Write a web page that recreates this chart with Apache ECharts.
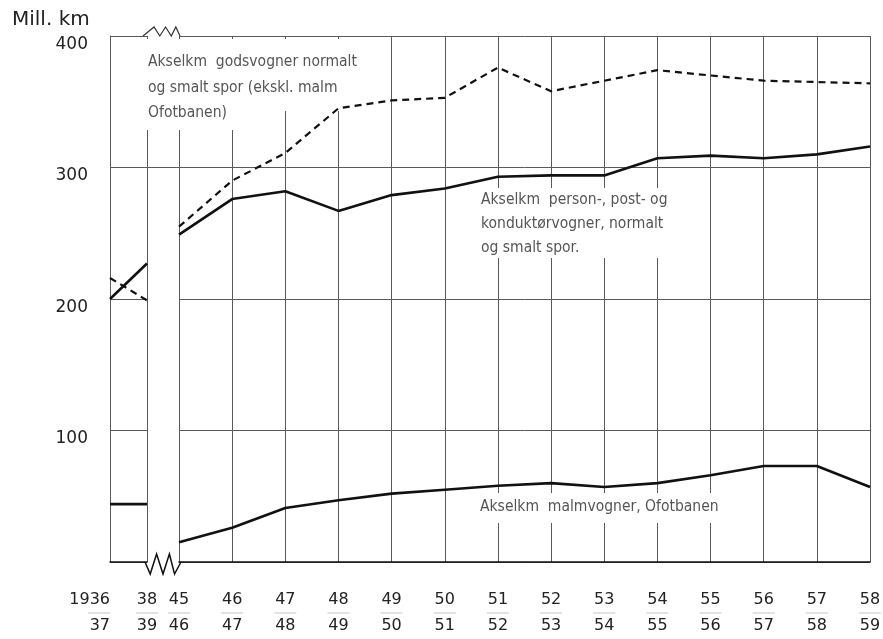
<!DOCTYPE html>
<html>
<head>
<meta charset="utf-8">
<script src="https://cdn.jsdelivr.net/npm/echarts@6/dist/echarts.min.js"></script>
<style>
  html, body { margin: 0; padding: 0; background: #fff; }
  #chart { width: 883px; height: 639px; }
</style>
</head>
<body>
<div id="chart"></div>
<script>
// ---- data ----
const categories = ['1936/37', '38/39', '45/46', '46/47', '47/48', '48/49', '49/50', '50/51',
  '51/52', '52/53', '53/54', '54/55', '55/56', '56/57', '57/58', '58/59'];
const godsvogner   = [216, 199, 255, 290, 311, 345, 351, 353, 376, 358, 366, 374, 370, 366, 365, 364];
const personvogner = [200, 227, 249, 276, 282, 267, 279, 284, 293, 294, 294, 307, 309, 307, 310, 316];
const malmvogner   = [44, 44, 15, 26, 41, 47, 52, 55, 58, 60, 57, 60, 66, 73, 73, 57];
const yTicks = [0, 100, 200, 300, 400];
const breakAt = 2; // axis is broken between 38/39 and 45/46
const unitLabel = 'Mill. km';
const notes = {
  gods: ['Akselkm  godsvogner normalt', 'og smalt spor (ekskl. malm', 'Ofotbanen)'],
  person: ['Akselkm  person-, post- og', 'konduktørvogner, normalt', 'og smalt spor.'],
  malm: ['Akselkm  malmvogner, Ofotbanen']
};

// ---- layout ----
const L = { top: 36, height: 526, leftX: 110, leftW: 37, rightX: 179, rightW: 691 };
const gridColor = '#5a5a5a';
const FONT = 'DejaVu Sans';
const NOTE_FONT = '15.5px "DejaVu Sans Condensed", "DejaVu Sans", sans-serif';

const chart = echarts.init(document.getElementById('chart'), null, { renderer: 'canvas' });

const leftCats = categories.slice(0, breakAt);
const rightCats = categories.slice(breakAt);

function xAxisFor(gridIndex, data) {
  return {
    type: 'category', gridIndex, data, boundaryGap: false,
    axisLine: { show: true, lineStyle: { color: '#111', width: 1.5 } },
    axisTick: { show: false },
    splitLine: { show: true, lineStyle: { color: gridColor, width: 1 } },
    axisLabel: {
      interval: 0, margin: 28, color: '#222', fontFamily: FONT,
      alignMinLabel: gridIndex === 0 ? 'right' : null,
      formatter: v => { const p = v.split('/'); return '{t|' + p[0] + '}\n{bar| }\n{b|' + p[1] + '}'; },
      rich: {
        t: { fontSize: 16, lineHeight: 20, color: '#222', fontFamily: FONT },
        bar: { width: 22, height: 1, lineHeight: 6, backgroundColor: '#c4c4c4', fontSize: 1 },
        b: { fontSize: 16, lineHeight: 20, color: '#222', fontFamily: FONT }
      }
    }
  };
}
function yAxisFor(gridIndex) {
  return {
    type: 'value', gridIndex, min: yTicks[0], max: yTicks[yTicks.length - 1], interval: yTicks[1] - yTicks[0],
    axisLine: { show: gridIndex === 0, lineStyle: { color: gridColor, width: 1 } },
    axisTick: { show: false },
    splitLine: { show: true, lineStyle: { color: gridColor, width: 1 } },
    axisLabel: {
      show: gridIndex === 0, margin: 22, fontSize: 17, color: '#222', fontFamily: FONT,
      verticalAlign: 'top', formatter: v => (v === 0 ? '' : String(v))
    }
  };
}
function seriesFor(gridIndex, slice) {
  const base = { type: 'line', xAxisIndex: gridIndex, yAxisIndex: gridIndex, symbol: 'none', silent: true, z: 3 };
  return [
    Object.assign({}, base, { name: 'gods', data: slice(godsvogner), lineStyle: { color: '#111', width: 2.2, type: [7, 5] } }),
    Object.assign({}, base, { name: 'person', data: slice(personvogner), lineStyle: { color: '#111', width: 2.6 } }),
    Object.assign({}, base, { name: 'malm', data: slice(malmvogner), lineStyle: { color: '#111', width: 2.6 } })
  ];
}

const option = {
  animation: false,
  backgroundColor: '#fff',
  title: { text: unitLabel, left: 12, top: 10, padding: 0,
    textStyle: { fontSize: 20, fontWeight: 'normal', color: '#222', fontFamily: FONT } },
  grid: [
    { left: L.leftX, top: L.top, width: L.leftW, height: L.height, outerBoundsMode: 'none', containLabel: false },
    { left: L.rightX, top: L.top, width: L.rightW, height: L.height, outerBoundsMode: 'none', containLabel: false }
  ],
  xAxis: [xAxisFor(0, leftCats), xAxisFor(1, rightCats)],
  yAxis: [yAxisFor(0), yAxisFor(1)],
  series: [].concat(
    seriesFor(0, a => a.slice(0, breakAt)),
    seriesFor(1, a => a.slice(breakAt))
  )
};
chart.setOption(option);

// ---- decorations: break marks, bridging line, annotations ----
const gapL = L.leftX + L.leftW, gapR = L.rightX;
const yBottom = L.top + L.height, yTopLine = L.top;
const y300 = chart.convertToPixel({ gridIndex: 0 }, [0, 300])[1];
const w = gapR - gapL;
const zigTop = [[gapL - 4, yTopLine], [gapL + 0.22 * w, yTopLine - 9], [gapL + 0.4 * w, yTopLine],
  [gapL + 0.58 * w, yTopLine - 9], [gapL + 0.76 * w, yTopLine], [gapL + 0.9 * w, yTopLine - 9], [gapR + 1, yTopLine]];
const zigBot = [[gapL - 2, yBottom], [gapL + 0.1 * w, yBottom + 12], [gapL + 0.3 * w, yBottom - 8],
  [gapL + 0.5 * w, yBottom + 12], [gapL + 0.7 * w, yBottom - 8], [gapL + 0.86 * w, yBottom + 12], [gapR + 2, yBottom]];

function noteTexts(lines, x, y0, dy) {
  return lines.map((t, i) => ({
    type: 'text', z: 2, silent: true,
    style: { text: t, x, y: y0 + i * dy, font: NOTE_FONT, fill: '#555', verticalAlign: 'middle' }
  }));
}
const white = (x, y, width, height) => ({ type: 'rect', z: 1, silent: true,
  shape: { x, y, width, height }, style: { fill: '#fff' } });

chart.setOption({
  graphic: [
    white(143, 39, 226, 72),
    white(143, 111, 94, 19),
    white(476, 188, 205, 70),
    white(474, 493, 250, 30),
    { type: 'line', z: 2, silent: true, shape: { x1: gapL, y1: y300, x2: gapR, y2: y300 },
      style: { stroke: gridColor, lineWidth: 1 } },
    { type: 'polyline', z: 4, silent: true, shape: { points: zigTop }, style: { stroke: '#333', lineWidth: 1.2, fill: null } },
    { type: 'polyline', z: 4, silent: true, shape: { points: zigBot }, style: { stroke: '#111', lineWidth: 1.5, fill: null } }
  ].concat(
    noteTexts(notes.gods, 148, 62, 25.5),
    noteTexts(notes.person, 481, 200, 24),
    noteTexts(notes.malm, 480, 507, 0)
  )
});
</script>
</body>
</html>
